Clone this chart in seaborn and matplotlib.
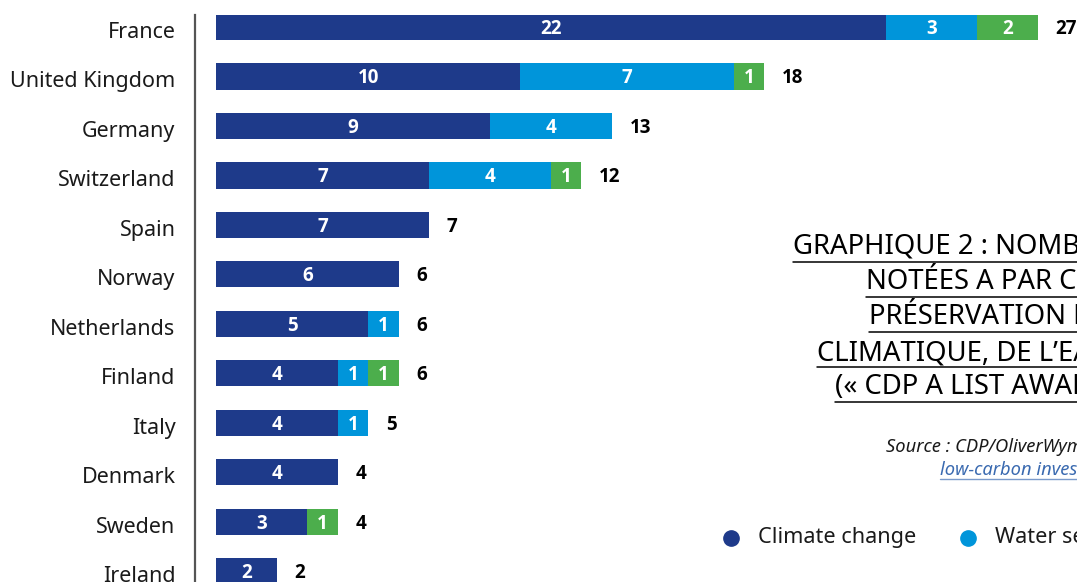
import numpy as np
import pandas as pd
import seaborn as sns
import matplotlib.pyplot as plt
from matplotlib.lines import Line2D
from matplotlib.transforms import ScaledTranslation

# Data
countries = ['France', 'United Kingdom', 'Germany', 'Switzerland', 'Spain', 'Norway',
             'Netherlands', 'Finland', 'Italy', 'Denmark', 'Sweden', 'Ireland']
climate = [22, 10, 9, 7, 7, 6, 5, 4, 4, 4, 3, 2]
water = [3, 7, 4, 4, 0, 0, 1, 1, 1, 0, 0, 0]
forests = [2, 1, 0, 1, 0, 0, 0, 1, 0, 0, 1, 0]

series_names = ['Climate change', 'Water security', 'Forests']
series_colors = ['#1e3a8a', '#0095da', '#4cae4c']

title_lines = ['GRAPHIQUE 2 : NOMBRE D\u2019ENTREPRISES',
               'NOTÉES A PAR CDP POUR LA',
               'PRÉSERVATION DU CHANGEMENT',
               'CLIMATIQUE, DE L\u2019EAU ET DES FORÊTS',
               '(« CDP A LIST AWARDS »)']

df = pd.DataFrame({'country': countries, 'climate': climate,
                   'water': water, 'forests': forests})
df['cw'] = df['climate'] + df['water']
df['total'] = df['cw'] + df['forests']

sns.set_style('white')
plt.rcParams['font.family'] = ['Noto Sans', 'DejaVu Sans']
bold_font = ['Open Sans', 'DejaVu Sans']

W, H = 1077, 582
fig = plt.figure(figsize=(W / 100, H / 100), dpi=100)
ax = fig.add_axes([195 / W, 0, 1 - 195 / W, 1 - 15 / H])

# stacked bars drawn as overlapping cumulative totals
bar_w = 0.53
for col, c in zip(['total', 'cw', 'climate'], series_colors[::-1]):
    sns.barplot(data=df, x=col, y='country', color=c, width=bar_w,
                orient='h', ax=ax, saturation=1, linewidth=0)

ax.set_xlim(-0.69, 28.28)
ax.set_ylim(11.22, -0.243)
ax.set_xlabel('')
ax.set_ylabel('')
ax.set_xticks([])
ax.tick_params(axis='y', length=0, pad=14, labelsize=15.5, labelcolor='#1a1a1a')
shift = ScaledTranslation(0, -3 / 100, fig.dpi_scale_trans)
for lab in ax.get_yticklabels():
    lab.set_transform(lab.get_transform() + shift)
for s in ['top', 'right', 'bottom']:
    ax.spines[s].set_visible(False)
ax.spines['left'].set_color('#555555')
ax.spines['left'].set_linewidth(1.6)

# segment labels
for i, row in df.iterrows():
    starts = [0, row['climate'], row['cw']]
    vals = [row['climate'], row['water'], row['forests']]
    for s0, v in zip(starts, vals):
        if v > 0:
            ax.text(s0 + v / 2, i + 0.04, str(v), ha='center', va='center', color='white',
                    fontsize=13.5, fontweight='bold', family=bold_font)
    ax.text(row['total'] + 0.58, i + 0.04, str(row['total']), ha='left', va='center',
            color='black', fontsize=13.5, fontweight='bold', family=bold_font)


def fx(x):
    return x / W


def fy(y):
    return 1 - y / H


# title block (cut by the right edge, underlined)
title_x = [793, 866, 869, 817, 835]
title_y = [247, 282, 317, 352, 387]
for txt, x0, y0 in zip(title_lines, title_x, title_y):
    fig.text(fx(x0), fy(y0), txt, ha='left', va='center', fontsize=19.8, color='black')
    fig.add_artist(Line2D([fx(x0), 1.2], [fy(y0 + 15), fy(y0 + 15)],
                          transform=fig.transFigure, color='black', lw=1.1))

# source
fig.text(fx(886), fy(447), 'Source : CDP/OliverWyman (2020), Leadership in',
         ha='left', va='center', fontsize=13.2, style='italic', color='#1a1a1a')
fig.text(fx(940), fy(470), 'low-carbon investment',
         ha='left', va='center', fontsize=13.2, style='italic', color='#3a6ab0')
fig.add_artist(Line2D([fx(940), 1.2], [fy(479), fy(479)],
                      transform=fig.transFigure, color='#7a9acb', lw=1.0))

# legend
leg_x = [731, 968, 1190]
for name, col, x0 in zip(series_names, series_colors, leg_x):
    fig.add_artist(Line2D([fx(x0)], [fy(538)], marker='o', markersize=11,
                          color=col, lw=0, transform=fig.transFigure))
    fig.text(fx(x0 + 27), fy(538), name, ha='left', va='center', fontsize=15.6,
             color='#1a1a1a')

fig.savefig('out.png', dpi=100)
